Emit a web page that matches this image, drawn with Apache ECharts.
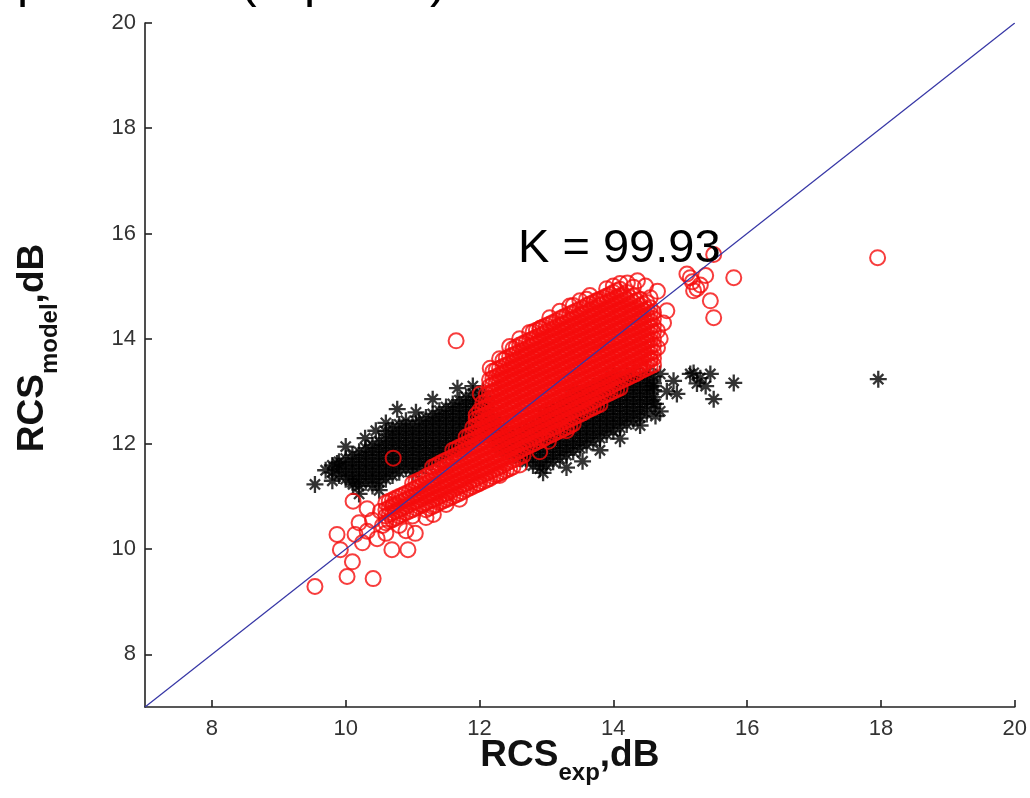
<!DOCTYPE html>
<html>
<head>
<meta charset="utf-8">
<script src="https://cdn.jsdelivr.net/npm/echarts@6/dist/echarts.min.js"></script>
<style>
html,body{margin:0;padding:0;background:#fff;}
#chart{width:1030px;height:798px;}
</style>
</head>
<body>
<div id="chart"></div>
<script>
// ---- tick labels ----
const xTicks = [8, 10, 12, 14, 16, 18, 20];
const yTicks = [8, 10, 12, 14, 16, 18, 20];
const kText = 'K = 99.93';

// ---- reference line y = x ----
const diagX = [7, 20];
const diagY = [7, 20];

// ---- red circles (model), dense core read column by column ----
const redCoreX = [10.6,10.7,10.8,10.9,11.0,11.1,11.2,11.3,11.4,11.5,11.6,11.7,11.8,11.9,12.0,12.1,12.2,12.3,12.4,12.5,12.6,12.7,12.8,12.9,13.0,13.1,13.2,13.3,13.4,13.5,13.6,13.7,13.8,13.9,14.0,14.1,14.2,14.3,14.4,14.5,14.6];
const redCoreY = [
 [10.5,10.63,10.75,10.88],
 [10.56,10.69,10.81,10.94],
 [10.63,10.75,10.88,11.0],
 [10.69,10.81,10.94,11.06],
 [10.63,10.75,10.88,11.0,11.13,11.25],
 [10.81,10.94,11.06,11.19,11.31],
 [10.75,10.88,11.0,11.13,11.25,11.38],
 [10.81,10.94,11.06,11.19,11.31,11.44,11.56],
 [10.88,11.0,11.13,11.25,11.38,11.5,11.63],
 [10.94,11.06,11.19,11.31,11.44,11.56,11.69],
 [11.0,11.13,11.25,11.38,11.5,11.63,11.75,11.88],
 [11.06,11.19,11.31,11.44,11.56,11.69,11.81,11.94],
 [11.13,11.25,11.38,11.5,11.63,11.75,11.88,12.0,12.13],
 [11.19,11.31,11.44,11.56,11.69,11.81,11.94,12.06,12.19,12.31],
 [11.25,11.38,11.5,11.63,11.75,11.88,12.0,12.13,12.25,12.38,12.5,12.63],
 [11.31,11.44,11.56,11.69,11.81,11.94,12.06,12.19,12.31,12.44,12.56,12.69,12.81,12.94],
 [11.38,11.5,11.63,11.75,11.88,12.0,12.13,12.25,12.38,12.5,12.63,12.75,12.88,13.0,13.13,13.25,13.38],
 [11.44,11.56,11.69,11.81,11.94,12.06,12.19,12.31,12.44,12.56,12.69,12.81,12.94,13.06,13.19,13.31,13.44],
 [11.5,11.63,11.75,11.88,12.0,12.13,12.25,12.38,12.5,12.63,12.75,12.88,13.0,13.13,13.25,13.38,13.5,13.63],
 [11.56,11.69,11.81,11.94,12.06,12.19,12.31,12.44,12.56,12.69,12.81,12.94,13.06,13.19,13.31,13.44,13.56,13.69,13.81],
 [11.75,11.88,12.0,12.13,12.25,12.38,12.5,12.63,12.75,12.88,13.0,13.13,13.25,13.38,13.5,13.63,13.75,13.88],
 [11.94,12.06,12.19,12.31,12.44,12.56,12.69,12.81,12.94,13.06,13.19,13.31,13.44,13.56,13.69,13.81,13.94],
 [12.0,12.13,12.25,12.38,12.5,12.63,12.75,12.88,13.0,13.13,13.25,13.38,13.5,13.63,13.75,13.88,14.0,14.13],
 [12.06,12.19,12.31,12.44,12.56,12.69,12.81,12.94,13.06,13.19,13.31,13.44,13.56,13.69,13.81,13.94,14.06,14.19],
 [12.13,12.25,12.38,12.5,12.63,12.75,12.88,13.0,13.13,13.25,13.38,13.5,13.63,13.75,13.88,14.0,14.13,14.25],
 [12.19,12.31,12.44,12.56,12.69,12.81,12.94,13.06,13.19,13.31,13.44,13.56,13.69,13.81,13.94,14.06,14.19,14.31],
 [12.25,12.38,12.5,12.63,12.75,12.88,13.0,13.13,13.25,13.38,13.5,13.63,13.75,13.88,14.0,14.13,14.25,14.38],
 [12.31,12.44,12.56,12.69,12.81,12.94,13.06,13.19,13.31,13.44,13.56,13.69,13.81,13.94,14.06,14.19,14.31,14.44],
 [12.38,12.5,12.63,12.75,12.88,13.0,13.13,13.25,13.38,13.5,13.63,13.75,13.88,14.0,14.13,14.25,14.38,14.5,14.63],
 [12.56,12.69,12.81,12.94,13.06,13.19,13.31,13.44,13.56,13.69,13.81,13.94,14.06,14.19,14.31,14.44,14.56],
 [12.63,12.75,12.88,13.0,13.13,13.25,13.38,13.5,13.63,13.75,13.88,14.0,14.13,14.25,14.38,14.5,14.63,14.75],
 [12.69,12.81,12.94,13.06,13.19,13.31,13.44,13.56,13.69,13.81,13.94,14.06,14.19,14.31,14.44,14.56,14.69],
 [12.75,12.88,13.0,13.13,13.25,13.38,13.5,13.63,13.75,13.88,14.0,14.13,14.25,14.38,14.5,14.63,14.75],
 [12.94,13.06,13.19,13.31,13.44,13.56,13.69,13.81,13.94,14.06,14.19,14.31,14.44,14.56,14.69,14.81],
 [13.0,13.13,13.25,13.38,13.5,13.63,13.75,13.88,14.0,14.13,14.25,14.38,14.5,14.63,14.75,14.88],
 [13.06,13.19,13.31,13.44,13.56,13.69,13.81,13.94,14.06,14.19,14.31,14.44,14.56,14.69,14.81,14.94],
 [13.25,13.38,13.5,13.63,13.75,13.88,14.0,14.13,14.25,14.38,14.5,14.63,14.75,14.88],
 [13.31,13.44,13.56,13.69,13.81,13.94,14.06,14.19,14.31,14.44,14.56,14.69,14.81],
 [13.38,13.5,13.63,13.75,13.88,14.0,14.13,14.25,14.38,14.5,14.63,14.75],
 [13.44,13.56,13.69,13.81,13.94,14.06,14.19,14.31,14.44,14.56,14.69],
 [13.5,13.63,13.75,13.88,14.0,14.13,14.25,14.38,14.5]
];
// in-between columns of the same dense core
const redHalfX = [10.65,10.75,10.85,10.95,11.05,11.15,11.25,11.35,11.45,11.55,11.65,11.75,11.85,11.95,12.05,12.15,12.25,12.35,12.45,12.55,12.65,12.75,12.85,12.95,13.05,13.15,13.25,13.35,13.45,13.55,13.65,13.75,13.85,13.95,14.05,14.15,14.25,14.35,14.45,14.55];
const redHalfY = [
 [10.53,10.66,10.78,10.91],
 [10.59,10.72,10.84,10.97],
 [10.66,10.78,10.91,11.03],
 [10.72,10.84,10.97,11.09],
 [10.78,10.91,11.03,11.16,11.28],
 [10.84,10.97,11.09,11.22,11.34],
 [10.78,10.91,11.03,11.16,11.28,11.41],
 [10.84,10.97,11.09,11.22,11.34,11.47,11.59],
 [10.91,11.03,11.16,11.28,11.41,11.53,11.66],
 [10.97,11.09,11.22,11.34,11.47,11.59,11.72],
 [11.03,11.16,11.28,11.41,11.53,11.66,11.78,11.91],
 [11.09,11.22,11.34,11.47,11.59,11.72,11.84,11.97],
 [11.16,11.28,11.41,11.53,11.66,11.78,11.91,12.03,12.16],
 [11.22,11.34,11.47,11.59,11.72,11.84,11.97,12.09,12.22,12.34,12.47],
 [11.28,11.41,11.53,11.66,11.78,11.91,12.03,12.16,12.28,12.41,12.53,12.66,12.78],
 [11.34,11.47,11.59,11.72,11.84,11.97,12.09,12.22,12.34,12.47,12.59,12.72,12.84,12.97,13.09,13.22],
 [11.41,11.53,11.66,11.78,11.91,12.03,12.16,12.28,12.41,12.53,12.66,12.78,12.91,13.03,13.16,13.28,13.41],
 [11.47,11.59,11.72,11.84,11.97,12.09,12.22,12.34,12.47,12.59,12.72,12.84,12.97,13.09,13.22,13.34,13.47,13.59],
 [11.53,11.66,11.78,11.91,12.03,12.16,12.28,12.41,12.53,12.66,12.78,12.91,13.03,13.16,13.28,13.41,13.53,13.66],
 [11.72,11.84,11.97,12.09,12.22,12.34,12.47,12.59,12.72,12.84,12.97,13.09,13.22,13.34,13.47,13.59,13.72,13.84],
 [11.78,11.91,12.03,12.16,12.28,12.41,12.53,12.66,12.78,12.91,13.03,13.16,13.28,13.41,13.53,13.66,13.78,13.91],
 [11.97,12.09,12.22,12.34,12.47,12.59,12.72,12.84,12.97,13.09,13.22,13.34,13.47,13.59,13.72,13.84,13.97],
 [12.03,12.16,12.28,12.41,12.53,12.66,12.78,12.91,13.03,13.16,13.28,13.41,13.53,13.66,13.78,13.91,14.03,14.16],
 [12.09,12.22,12.34,12.47,12.59,12.72,12.84,12.97,13.09,13.22,13.34,13.47,13.59,13.72,13.84,13.97,14.09,14.22],
 [12.16,12.28,12.41,12.53,12.66,12.78,12.91,13.03,13.16,13.28,13.41,13.53,13.66,13.78,13.91,14.03,14.16,14.28],
 [12.22,12.34,12.47,12.59,12.72,12.84,12.97,13.09,13.22,13.34,13.47,13.59,13.72,13.84,13.97,14.09,14.22,14.34],
 [12.28,12.41,12.53,12.66,12.78,12.91,13.03,13.16,13.28,13.41,13.53,13.66,13.78,13.91,14.03,14.16,14.28,14.41],
 [12.34,12.47,12.59,12.72,12.84,12.97,13.09,13.22,13.34,13.47,13.59,13.72,13.84,13.97,14.09,14.22,14.34,14.47],
 [12.53,12.66,12.78,12.91,13.03,13.16,13.28,13.41,13.53,13.66,13.78,13.91,14.03,14.16,14.28,14.41,14.53],
 [12.59,12.72,12.84,12.97,13.09,13.22,13.34,13.47,13.59,13.72,13.84,13.97,14.09,14.22,14.34,14.47,14.59],
 [12.66,12.78,12.91,13.03,13.16,13.28,13.41,13.53,13.66,13.78,13.91,14.03,14.16,14.28,14.41,14.53,14.66],
 [12.72,12.84,12.97,13.09,13.22,13.34,13.47,13.59,13.72,13.84,13.97,14.09,14.22,14.34,14.47,14.59,14.72],
 [12.91,13.03,13.16,13.28,13.41,13.53,13.66,13.78,13.91,14.03,14.16,14.28,14.41,14.53,14.66,14.78],
 [12.97,13.09,13.22,13.34,13.47,13.59,13.72,13.84,13.97,14.09,14.22,14.34,14.47,14.59,14.72,14.84],
 [13.03,13.16,13.28,13.41,13.53,13.66,13.78,13.91,14.03,14.16,14.28,14.41,14.53,14.66,14.78,14.91],
 [13.22,13.34,13.47,13.59,13.72,13.84,13.97,14.09,14.22,14.34,14.47,14.59,14.72,14.84],
 [13.28,13.41,13.53,13.66,13.78,13.91,14.03,14.16,14.28,14.41,14.53,14.66,14.78],
 [13.34,13.47,13.59,13.72,13.84,13.97,14.09,14.22,14.34,14.47,14.59,14.72],
 [13.41,13.53,13.66,13.78,13.91,14.03,14.16,14.28,14.41,14.53,14.66],
 [13.47,13.59,13.72,13.84,13.97,14.09,14.22,14.34,14.47,14.59]
];
// scattered red circles at the edges and outliers
const redLoose = [
 [9.54,9.29],[10.02,9.48],[10.41,9.44],[10.1,9.76],[9.92,9.99],[9.87,10.28],[10.14,10.28],[10.32,10.34],
 [10.47,10.2],[10.69,9.99],[10.93,9.99],[11.04,10.3],[11.31,10.66],[11.98,11.25],[10.11,10.91],[10.32,10.77],
 [10.52,10.72],[10.71,10.85],[10.2,10.5],[10.6,10.3],[10.8,10.45],[10.4,10.55],[10.25,10.12],[10.55,10.45],
 [10.9,10.35],[11.2,10.6],[11.5,10.85],[11.7,10.95],[12.3,11.4],[12.6,11.6],[12.9,11.85],[13.03,12.05],[13.3,12.25],
 [10.71,11.73],[11.95,12.55],[12.01,12.95],[12.16,13.44],[12.3,13.62],[12.45,13.85],[12.6,14.0],[12.75,14.12],
 [12.91,14.2],[13.05,14.4],[13.2,14.52],[13.35,14.62],[13.5,14.72],[13.65,14.82],[13.76,14.72],[13.9,14.95],
 [14.0,15.0],[14.1,15.05],[14.21,15.06],[14.36,15.1],[14.3,14.98],[14.48,15.0],[14.55,14.78],[14.66,14.9],
 [14.8,14.53],[14.75,14.3],[14.66,14.15],[14.7,14.0],[14.66,13.83],[14.4,13.44],[14.55,13.62],
 [15.1,15.23],[15.38,15.2],[15.15,15.16],[15.2,14.91],[15.3,15.02],[15.25,14.95],[15.45,14.72],[15.5,14.4],
 [15.8,15.16],[15.5,15.6],[15.18,15.08],[11.65,13.96],[17.95,15.54]
];

// ---- black stars (experiment), dense core read column by column ----
const blackCoreX = [9.8,9.9,10.0,10.1,10.2,10.3,10.4,10.5,10.6,10.7,10.8,10.9,11.0,11.1,11.2,11.3,11.4,11.5,11.6,11.7,11.8,11.9,12.0,12.1,12.2,12.3,12.4,12.5,12.6,12.7,12.8,12.9,13.0,13.1,13.2,13.3,13.4,13.5,13.6,13.7,13.8,13.9,14.0,14.1,14.2,14.3,14.4,14.5,14.6];
const blackCoreY = [
 [11.46,11.59],
 [11.4,11.53,11.66],
 [11.33,11.46,11.59,11.72],
 [11.27,11.4,11.53,11.66,11.79],
 [11.2,11.33,11.46,11.59,11.72,11.85],
 [11.27,11.4,11.53,11.66,11.79,11.92],
 [11.2,11.33,11.46,11.59,11.72,11.85,11.98],
 [11.27,11.4,11.53,11.66,11.79,11.92,12.05],
 [11.33,11.46,11.59,11.72,11.85,11.98,12.11,12.24],
 [11.4,11.53,11.66,11.79,11.92,12.05,12.18,12.31],
 [11.46,11.59,11.72,11.85,11.98,12.11,12.24,12.37],
 [11.53,11.66,11.79,11.92,12.05,12.18,12.31,12.44],
 [11.46,11.59,11.72,11.85,11.98,12.11,12.24,12.37],
 [11.53,11.66,11.79,11.92,12.05,12.18,12.31,12.44],
 [11.59,11.72,11.85,11.98,12.11,12.24,12.37,12.5],
 [11.66,11.79,11.92,12.05,12.18,12.31,12.44,12.57],
 [11.72,11.85,11.98,12.11,12.24,12.37,12.5,12.63],
 [11.79,11.92,12.05,12.18,12.31,12.44,12.57,12.7],
 [11.85,11.98,12.11,12.24,12.37,12.5,12.63,12.76],
 [11.92,12.05,12.18,12.31,12.44,12.57,12.7,12.83],
 [11.98,12.11,12.24,12.37,12.5,12.63,12.76,12.89],
 [12.05,12.18,12.31,12.44,12.57,12.7,12.83,12.96],
 [12.11,12.24,12.37,12.5,12.63,12.76,12.89],
 [12.18,12.31,12.44,12.57,12.7,12.83],
 [12.11,12.24,12.37,12.5],
 [11.92,12.05,12.18,12.31],
 [11.85,11.98,12.11,12.24],
 [11.79,11.92,12.05,12.18],
 [11.72,11.85,11.98,12.11,12.24],
 [11.66,11.79,11.92,12.05,12.18,12.31],
 [11.59,11.72,11.85,11.98,12.11,12.24,12.37],
 [11.53,11.66,11.79,11.92,12.05,12.18,12.31,12.44],
 [11.59,11.72,11.85,11.98,12.11,12.24,12.37,12.5,12.63],
 [11.66,11.79,11.92,12.05,12.18,12.31,12.44,12.57,12.7],
 [11.72,11.85,11.98,12.11,12.24,12.37,12.5,12.63,12.76],
 [11.79,11.92,12.05,12.18,12.31,12.44,12.57,12.7,12.83],
 [11.85,11.98,12.11,12.24,12.37,12.5,12.63,12.76,12.89,13.02],
 [11.92,12.05,12.18,12.31,12.44,12.57,12.7,12.83,12.96],
 [11.98,12.11,12.24,12.37,12.5,12.63,12.76,12.89,13.02],
 [12.05,12.18,12.31,12.44,12.57,12.7,12.83,12.96,13.09],
 [12.11,12.24,12.37,12.5,12.63,12.76,12.89,13.02,13.15],
 [12.18,12.31,12.44,12.57,12.7,12.83,12.96,13.09,13.22],
 [12.24,12.37,12.5,12.63,12.76,12.89,13.02,13.15,13.28],
 [12.31,12.44,12.57,12.7,12.83,12.96,13.09,13.22],
 [12.37,12.5,12.63,12.76,12.89,13.02,13.15,13.28],
 [12.44,12.57,12.7,12.83,12.96,13.09,13.22,13.35],
 [12.5,12.63,12.76,12.89,13.02,13.15,13.28],
 [12.57,12.7,12.83,12.96,13.09,13.22,13.35],
 [12.76,12.89,13.02,13.15,13.28]
];
const blackLoose = [
 [9.54,11.23],[9.7,11.5],[9.87,11.63],[10.11,11.23],[10.2,11.05],[10.5,11.12],[10.29,12.11],[10.45,12.25],
 [10.6,12.4],[10.77,12.66],[11.05,12.6],[11.3,12.85],[11.67,13.06],[11.9,13.1],[12.05,13.0],[10.0,11.95],[9.8,11.3],
 [12.95,11.45],[13.3,11.55],[13.54,11.67],[13.8,11.88],[14.1,12.1],[14.4,12.35],[14.63,12.53],[14.7,12.62],
 [14.63,12.76],[14.8,13.0],[14.7,13.33],[14.6,13.1],[14.9,13.2],[14.95,12.95],[15.15,13.33],[15.2,13.35],
 [15.25,13.15],[15.3,13.25],[15.38,13.1],[15.45,13.33],[15.5,12.85],[15.8,13.16],[17.96,13.23]
];

function fromColumns(xs, ys) {
  const out = [];
  xs.forEach((x, i) => ys[i].forEach(y => out.push([x, y])));
  return out;
}
const redData = fromColumns(redCoreX, redCoreY).concat(fromColumns(redHalfX, redHalfY), redLoose);
const blackData = fromColumns(blackCoreX, blackCoreY).concat(blackLoose);
const diagData = diagX.map((x, i) => [x, diagY[i]]);

const FONT = "'Liberation Sans', Arial, sans-serif";
const chart = echarts.init(document.getElementById('chart'), null, {renderer: 'canvas'});
const starPath = 'path://M0,-10L0,10M-10,0L10,0M-6,-6L6,6M-6,6L6,-6';

function axisName(padding) {
  return {
    padding: padding,
    rich: {
      a: {fontSize: 37, fontWeight: 'bold', fontFamily: FONT, color: '#111', lineHeight: 48, verticalAlign: 'top'},
      b: {fontSize: 24, fontWeight: 'bold', fontFamily: FONT, color: '#111', verticalAlign: 'bottom'}
    }
  };
}

// fragment of a title line that is cut off by the top edge of the picture
function cutGlyph(ch, x) {
  return {type: 'text', x: x, y: 8.5, z: 100,
          style: {text: ch, fontSize: 50, fontFamily: FONT, fill: '#000', verticalAlign: 'bottom'}};
}

const option = {
  backgroundColor: '#fff',
  animation: false,
  grid: {left: 145, right: 14, top: 23, bottom: 91},
  xAxis: {
    type: 'value', min: 7, max: 20, interval: 1,
    splitLine: {show: false},
    axisLine: {onZero: false, lineStyle: {color: '#222', width: 1.6}},
    axisTick: {inside: true, length: 7, customValues: xTicks, lineStyle: {color: '#222', width: 1.6}},
    axisLabel: {customValues: xTicks, fontSize: 22, color: '#333', fontFamily: FONT, margin: 11},
    name: '{a|RCS}{b|exp}{a|,dB}',
    nameLocation: 'middle', nameGap: 30, nameMoveOverlap: false,
    nameTextStyle: axisName([0, 20, 0, 0])
  },
  yAxis: {
    type: 'value', min: 7, max: 20, interval: 1,
    splitLine: {show: false},
    axisLine: {onZero: false, lineStyle: {color: '#222', width: 1.6}},
    axisTick: {inside: true, length: 7, customValues: yTicks, lineStyle: {color: '#222', width: 1.6}},
    axisLabel: {customValues: yTicks, fontSize: 22, color: '#333', fontFamily: FONT, margin: 9},
    name: '{a|RCS}{b|model}{a|,dB}',
    nameLocation: 'middle', nameGap: 83, nameMoveOverlap: false,
    nameTextStyle: axisName([0, 0, 0, 34])
  },
  series: [
    {
      name: 'exp', type: 'scatter', data: blackData,
      symbol: starPath, symbolSize: 17, z: 2,
      itemStyle: {color: '#000', borderColor: '#000', borderWidth: 2.3},
      emphasis: {disabled: true}, silent: true
    },
    {
      name: 'model', type: 'scatter', data: redData,
      symbol: 'circle', symbolSize: 15, z: 3,
      itemStyle: {color: 'rgba(0,0,0,0)', borderColor: '#f50d0d', borderWidth: 2},
      emphasis: {disabled: true}, silent: true
    },
    {
      name: 'y=x', type: 'line', data: diagData, z: 4,
      symbol: 'none', lineStyle: {color: '#3535a5', width: 1.2},
      silent: true
    }
  ],
  graphic: [
    {type: 'text', left: 518, top: 226, z: 100,
     style: {text: kText, fontSize: 47, fontFamily: FONT, fill: '#000'}},
    cutGlyph('р', 17),
    cutGlyph('(', 240),
    cutGlyph('р', 304),
    cutGlyph(')', 430)
  ]
};
chart.setOption(option);
</script>
</body>
</html>
